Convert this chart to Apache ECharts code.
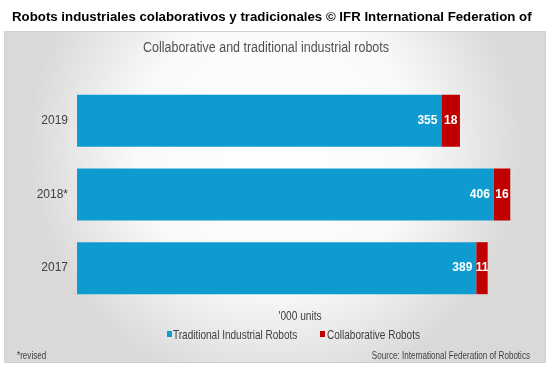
<!DOCTYPE html>
<html><head><meta charset="utf-8">
<script src="https://cdn.jsdelivr.net/npm/echarts@6/dist/echarts.min.js"></script>
<style>html,body{margin:0;padding:0;background:#fff}#c{width:548px;height:368px}</style>
</head><body><div id="c"></div>
<script>
const categories = ['2019', '2018*', '2017'];
const traditional = [355, 406, 389];
const collaborative = [18, 16, 11];
const seriesNames = ['Traditional Industrial Robots', 'Collaborative Robots'];
const colors = ['#0E9BD0', '#C00000'];
const F = '"Liberation Sans", Arial, sans-serif';
const chart = echarts.init(document.getElementById('c'));
function txt(x, y, text, font, fill, align, sx) {
  return { type: 'text', x: x, y: y, scaleX: sx, z: 10,
    style: { text: text, font: font, fill: fill, textAlign: align, textVerticalAlign: 'middle' } };
}
chart.setOption({
  animation: false,
  backgroundColor: '#fff',
  graphic: [
    { type: 'rect', z: -10, shape: { x: 4.5, y: 31.5, width: 541, height: 331 },
      style: { fill: { type: 'radial', x: 0.5, y: 0.35, r: 0.75,
        colorStops: [{ offset: 0, color: '#ffffff' }, { offset: 0.55, color: '#fafafa' }, { offset: 1, color: '#d9d9d9' }] },
        stroke: '#d0d0d0', lineWidth: 1 } },
    txt(12, 17, 'Robots industriales colaborativos y tradicionales © IFR International Federation of', 'bold 13px ' + F, '#000', 'left', 1.02),
    txt(266, 48, 'Collaborative and traditional industrial robots', '14px ' + F, '#505050', 'center', 0.89),
    txt(300, 316, "'000 units", '13px ' + F, '#404040', 'center', 0.78),
    { type: 'rect', shape: { x: 167, y: 331, width: 5, height: 6 }, style: { fill: colors[0] } },
    txt(173, 335, seriesNames[0], '13px ' + F, '#404040', 'left', 0.77),
    { type: 'rect', shape: { x: 320, y: 331, width: 5, height: 6 }, style: { fill: colors[1] } },
    txt(327, 335, seriesNames[1], '13px ' + F, '#404040', 'left', 0.77),
    txt(17, 356, '*revised', '10.5px ' + F, '#404040', 'left', 0.77),
    txt(530, 356, 'Source: International Federation of Robotics', '10.5px ' + F, '#404040', 'right', 0.77)
  ],
  grid: { left: 77, top: 84, height: 221, width: 462 },
  xAxis: { type: 'value', min: 0, max: 450, show: false },
  yAxis: { type: 'category', data: categories, inverse: true,
    axisLine: { show: false }, axisTick: { show: false },
    axisLabel: { fontFamily: F, fontSize: 12, color: '#404040', margin: 9 } },
  series: [
    { name: seriesNames[0], type: 'bar', stack: 's', data: traditional, barWidth: 52,
      itemStyle: { color: colors[0] },
      label: { show: true, position: 'insideRight', distance: 4, color: '#fff', fontFamily: F, fontWeight: 'bold', fontSize: 12 } },
    { name: seriesNames[1], type: 'bar', stack: 's', data: collaborative, barWidth: 52,
      itemStyle: { color: colors[1] },
      label: { show: true, position: 'inside', color: '#fff', fontFamily: F, fontWeight: 'bold', fontSize: 12 } }
  ]
});
</script></body></html>
